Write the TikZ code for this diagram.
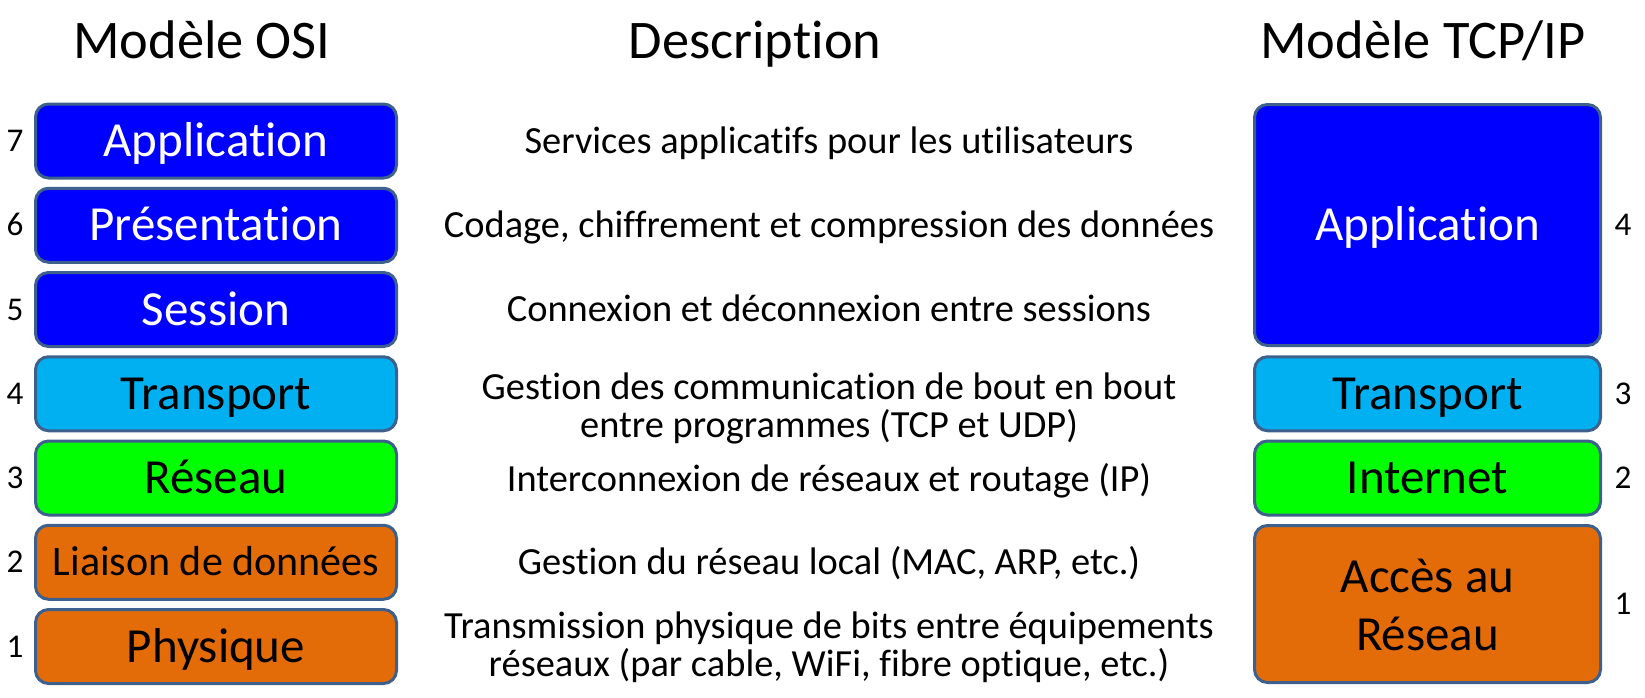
\documentclass[tikz,border=0pt]{standalone}
\usepackage{fontspec}
\setmainfont[Ligatures=NoCommon]{Carlito}
\definecolor{edge}{RGB}{62,96,140}
\definecolor{lblue}{HTML}{00B0F0}
\definecolor{orng}{HTML}{E36C09}
\definecolor{grn}{HTML}{00FF00}
\definecolor{blu}{HTML}{0000FF}
\begin{document}
\begin{tikzpicture}[x=0.5pt,y=-0.5pt,
 layer/.style={draw=edge, line width=1.5pt, rounded corners=6.5pt, inner sep=0pt, align=center,
   font=\fontsize{24.5}{29}\selectfont, text height=15.5pt, text depth=0pt},
 osi/.style={layer, minimum width=180.5pt, minimum height=37pt},
 tcp/.style={layer, minimum width=173pt},
 num/.style={font=\fontsize{16.6}{19}\selectfont, inner sep=0pt, text height=10.5pt, text depth=0pt},
 desc/.style={font=\fontsize{19.2}{17}\selectfont, anchor=base, inner sep=0pt},
 title/.style={font=\fontsize{27.2}{32}\selectfont, anchor=base, inner sep=0pt}]
\useasboundingbox (0,0) rectangle (1645,697);
% titles
\node[title] (h1) at (202,58) {Modèle OSI};
\node[title] (h2) at (755,58) {Description};
\node[title] (h3) at (1423,58) {Modèle TCP/IP};
% OSI layers
\node[osi, fill=blu, text=white] (o7) at (216,141) {Application};
\node[osi, fill=blu, text=white] (o6) at (216,225.25) {Présentation};
\node[osi, fill=blu, text=white] (o5) at (216,309.5) {Session};
\node[osi, fill=lblue] (o4) at (216,393.75) {Transport};
\node[osi, fill=grn] (o3) at (216,478) {Réseau};
\node[osi, fill=orng, font=\fontsize{21}{25}\selectfont, text height=13.3pt] (o2) at (216,562.25) {Liaison de données};
\node[osi, fill=orng] (o1) at (216,646.5) {Physique};
% OSI numbers
\node[num] (n7) at (15,141) {7};
\node[num] (n6) at (15,225.25) {6};
\node[num] (n5) at (15,309.5) {5};
\node[num] (n4) at (15,393.75) {4};
\node[num] (n3) at (15,478) {3};
\node[num] (n2) at (15,562.25) {2};
\node[num] (n1) at (15,646.5) {1};
% descriptions
\node[desc] (d7) at (829,153) {Services applicatifs pour les utilisateurs};
\node[desc] (d6) at (829,237.25) {Codage, chiffrement et compression des données};
\node[desc] (d5) at (829,321.5) {Connexion et déconnexion entre sessions};
\node[desc] (d4) at (829,399) {\begin{tabular}[t]{@{}c@{}}Gestion des communication de bout en bout\\entre programmes (TCP et UDP)\end{tabular}};
\node[desc] (d3) at (829,491) {Interconnexion de réseaux et routage (IP)};
\node[desc] (d2) at (829,574.25) {Gestion du réseau local (MAC, ARP, etc.)};
\node[desc] (d1) at (829,638) {\begin{tabular}[t]{@{}c@{}}Transmission physique de bits entre équipements\\réseaux (par cable, WiFi, fibre optique, etc.)\end{tabular}};
% TCP/IP layers
\node[tcp, fill=blu, text=white, minimum height=120.5pt] (t4) at (1427.5,225) {Application};
\node[tcp, fill=lblue, minimum height=37pt] (t3) at (1427.5,393.75) {Transport};
\node[tcp, fill=grn, minimum height=37pt] (t2) at (1427.5,478) {Internet};
\node[tcp, fill=orng, minimum height=78.5pt, text height=10pt, text depth=22pt] (t1) at (1427.5,604) {\begin{tabular}[t]{@{}c@{}}Accès au\\Réseau\end{tabular}};
% TCP/IP numbers
\node[num] (m4) at (1623,225) {4};
\node[num] (m3) at (1623,393.75) {3};
\node[num] (m2) at (1623,478) {2};
\node[num] (m1) at (1623,604) {1};
\end{tikzpicture}
\end{document}
